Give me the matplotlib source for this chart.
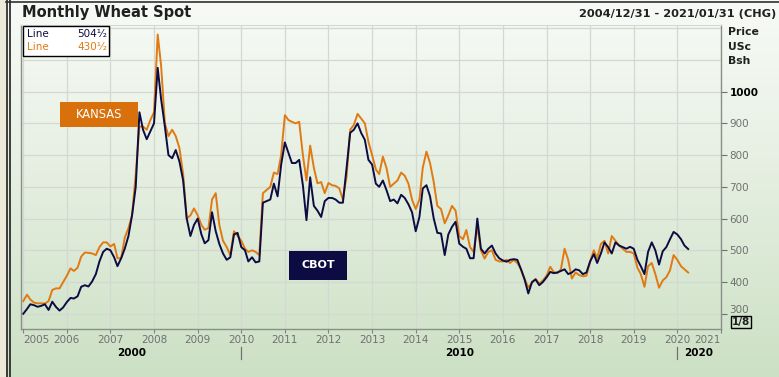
#!/usr/bin/env python3

# Monthly wheat spot: CBOT vs Kansas, 2005-2020

import numpy as np
import pandas as pd
import matplotlib
matplotlib.use('Agg')
import matplotlib.pyplot as plt
import matplotlib.transforms as mtransforms
from matplotlib.patches import Rectangle
from matplotlib.lines import Line2D

months = pd.date_range('2005-01-01', periods=184, freq='MS')

cbot = [
    300, 315, 330, 327, 322, 325, 330, 312, 338, 322,
    310, 320, 337, 350, 348, 355, 385, 390, 386, 402,
    425, 465, 495, 505, 500, 478, 450, 475, 505, 545,
    610, 700, 935, 880, 850, 875, 900, 1075, 975, 890,
    800, 790, 816, 780, 720, 600, 545, 580, 600, 550,
    522, 532, 620, 560, 520, 490, 470, 478, 550, 555,
    510, 500, 465, 478, 462, 465, 650, 655, 660, 710,
    670, 770, 840, 806, 775, 775, 785, 705, 595, 730,
    640, 625, 605, 655, 665, 665, 660, 650, 650, 760,
    870, 880, 900, 870, 848, 785, 770, 710, 700, 720,
    690, 655, 660, 648, 675, 665, 645, 620, 560, 605,
    695, 705, 670, 600, 555, 553, 485, 550, 574, 590,
    521, 511, 505, 475, 475, 600, 505, 490, 505, 515,
    490, 475, 468, 464, 470, 472, 470, 440, 408, 364,
    400, 408, 390, 400, 415, 432, 428, 430, 435, 440,
    425, 430, 440, 437, 425, 430, 465, 488, 460, 490,
    525, 510, 490, 525, 515, 510, 505, 511, 505, 470,
    450, 425, 495, 525, 500, 455, 497, 510, 535, 558,
    550, 535, 515, 504,
]

kansas = [
    340, 360, 345, 335, 333, 333, 332, 340, 375, 380,
    380, 400, 420, 443, 435, 445, 480, 493, 492, 490,
    485, 510, 525, 525, 512, 520, 475, 475, 540, 570,
    610, 740, 890, 890, 880, 910, 935, 1180, 1080, 900,
    860, 880, 860, 822, 740, 600, 610, 632, 610, 580,
    565, 570, 660, 680, 580, 530, 510, 485, 560, 545,
    530, 505, 495, 500, 495, 485, 680, 690, 700, 745,
    740, 800, 926, 910, 905, 900, 905, 800, 720, 830,
    760, 711, 715, 680, 712, 705, 703, 695, 660, 732,
    880, 895, 930, 915, 900, 842, 800, 755, 740, 795,
    760, 700, 710, 720, 745, 735, 710, 660, 630, 660,
    760, 811, 775, 715, 640, 630, 585, 610, 640, 625,
    545, 535, 564, 510, 495, 575, 500, 474, 495, 500,
    470, 465, 465, 470, 460, 470, 460, 440, 410, 383,
    398, 410, 395, 405, 420, 448, 432, 428, 440, 505,
    470, 411, 430, 422, 418, 420, 465, 500, 475, 520,
    530, 490, 545, 530, 515, 505, 495, 495, 490, 445,
    425, 385, 450, 460, 425, 382, 405, 415, 437, 485,
    470, 450, 440, 430,
]

years = list(range(2005, 2022))
price_ticks = [300, 400, 500, 600, 700, 800, 900, 1000]

NAVY = '#0c0c42'
ORANGE = '#e07a12'

W, H = 779, 377
fig = plt.figure(figsize=(W / 100, H / 100), dpi=100)


def fx(px):
    return px / W


def fy(py):
    return 1 - py / H


# background gradient
bg = fig.add_axes([0, 0, 1, 1], zorder=-10)
grad = np.linspace(0, 1, 256).reshape(-1, 1)
top = np.array([0.97, 0.98, 0.965])
bot = np.array([0.80, 0.88, 0.77])
img = top + (bot - top) * grad[..., None] ** 1.1
bg.imshow(img.reshape(256, 1, 3), aspect='auto', extent=[0, 1, 0, 1])
bg.set_xlim(0, 1)
bg.set_ylim(0, 1)
bg.axis('off')

# window chrome on the left and top
fig.add_artist(Rectangle((0, 0), fx(5.5), 1, transform=fig.transFigure,
                         facecolor='#ece9d8', edgecolor='none'))
for xp in (6.5, 9.5):
    fig.add_artist(Line2D([fx(xp)] * 2, [0, 1], transform=fig.transFigure,
                          color='#202020', lw=1.2))
fig.add_artist(Line2D([fx(5.5), 1], [fy(1.5)] * 2, transform=fig.transFigure,
                      color='#303030', lw=1.2))

left, right, ytop, ybot = 21, 721, 25, 329
ax = fig.add_axes([fx(left), fy(ybot), (right - left) / W, (ybot - ytop) / H])
ax.set_facecolor('none')

ax.plot(months, kansas, color=ORANGE, lw=1.4, zorder=3)
ax.plot(months, cbot, color=NAVY, lw=1.4, zorder=4)

ax.set_xlim(pd.Timestamp('2004-12-13'), pd.Timestamp('2021-01-01'))
ax.set_ylim(252, 1210)

# axes / grid
grid_c = '#d3d8d1'
ax.yaxis.tick_right()
ax.set_yticks(price_ticks)
ax.set_yticklabels([str(v) for v in price_ticks])
ax.set_yticks([1100, 1200], minor=True)
ax.tick_params(axis='y', which='major', direction='out', length=4, width=0.8,
               color='#707070', labelsize=7.5, labelcolor='#707070', pad=2)
ax.tick_params(axis='y', which='minor', length=0)
for lab in ax.get_yticklabels():
    if lab.get_text() == '1000':
        lab.set_color('black')
        lab.set_fontweight('bold')
    if lab.get_text() == '300':
        # nudged up to leave room for the 1/8 box
        lab.set_transform(lab.get_transform() +
                          mtransforms.ScaledTranslation(0, 5 / 100, fig.dpi_scale_trans))

xt = [pd.Timestamp(f'{y}-01-01') for y in years]
ax.set_xticks(xt)
ax.set_xticklabels([str(y) for y in years])
ax.tick_params(axis='x', direction='out', length=3, width=0.8, color='#808080',
               labelsize=7.5, labelcolor='#707070', pad=1.5)
xl = ax.get_xticklabels()
xl[0].set_horizontalalignment('left')
xl[-1].set_horizontalalignment('right')

ax.grid(True, which='both', color=grid_c, lw=0.9, zorder=0)
for side in ('left', 'bottom', 'right'):
    ax.spines[side].set_color('#8a8f88')
    ax.spines[side].set_linewidth(1.0)
ax.spines['top'].set_color(grid_c)

# decade labels under the years
xtr = ax.get_xaxis_transform()
ysec = -0.078
ax.text(pd.Timestamp('2007-07-01'), ysec, '2000', transform=xtr, ha='center',
        va='center', fontsize=7.5, fontweight='bold', color='black')
ax.text(pd.Timestamp('2015-01-01'), ysec, '2010', transform=xtr, ha='center',
        va='center', fontsize=7.5, fontweight='bold', color='black')
ax.text(pd.Timestamp('2020-03-01'), ysec, '2020', transform=xtr, ha='left',
        va='center', fontsize=7.5, fontweight='bold', color='black')
for d in ('2010-01-01', '2020-01-01'):
    ax.plot([pd.Timestamp(d)] * 2, [-0.06, -0.1], transform=xtr, color='#707070',
            lw=0.9, clip_on=False)

# legend box
fig.add_artist(Rectangle((fx(23), fy(56)), 86 / W, 30 / H, transform=fig.transFigure,
                         facecolor='white', edgecolor='black', lw=1.0, zorder=5))
fig.text(fx(27), fy(34), 'Line', fontsize=7.5, color=NAVY, va='center', zorder=6)
fig.text(fx(107), fy(34), '504\u00b9\u2044\u2082', fontsize=7.5, color=NAVY,
         va='center', ha='right', zorder=6)
fig.text(fx(27), fy(47), 'Line', fontsize=7.5, color=ORANGE, va='center', zorder=6)
fig.text(fx(107), fy(47), '430\u00b9\u2044\u2082', fontsize=7.5, color=ORANGE,
         va='center', ha='right', zorder=6)

# series tags
fig.add_artist(Rectangle((fx(60), fy(127)), 78 / W, 25 / H, transform=fig.transFigure,
                         facecolor='#d8700c', edgecolor='none', zorder=5))
fig.text(fx(99), fy(114.5), 'KANSAS', fontsize=8.3, color='white', ha='center',
         va='center', zorder=6)
fig.add_artist(Rectangle((fx(289), fy(280)), 58 / W, 29 / H, transform=fig.transFigure,
                         facecolor=NAVY, edgecolor='none', zorder=5))
fig.text(fx(318), fy(265.5), 'CBOT', fontsize=8, fontweight='bold', color='white',
         ha='center', va='center', zorder=6)

# titles and unit label
fig.text(fx(22), fy(13), 'Monthly Wheat Spot', fontsize=10.5, fontweight='bold',
         color='#202020', va='center')
fig.text(fx(776), fy(14), '2004/12/31 - 2021/01/31 (CHG)', fontsize=8.2,
         fontweight='bold', color='#202020', va='center', ha='right')
for i, t in enumerate(['Price', 'USc', 'Bsh']):
    fig.text(fx(728), fy(32 + i * 14.5), t, fontsize=7.8, fontweight='bold',
             color='#202020', va='center')

fig.text(fx(741), fy(322), '1/8', fontsize=7.5, fontweight='bold', color='#202020',
         va='center', ha='center',
         bbox=dict(boxstyle='square,pad=0.12', facecolor='none', edgecolor='black', lw=1.0))

fig.savefig('out.png', dpi=100)
